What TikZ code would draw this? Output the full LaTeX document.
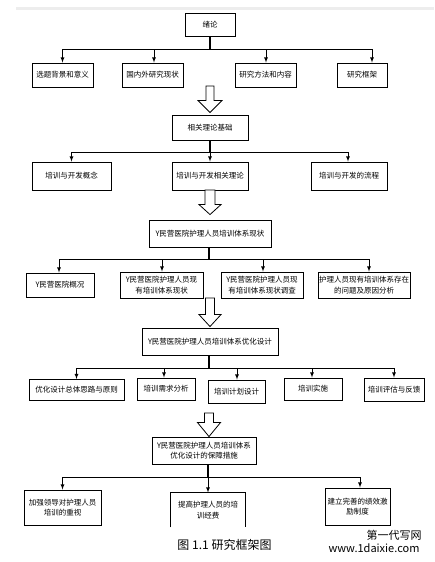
\documentclass[tikz,border=0pt]{standalone}
\usepackage{fontspec}
\setmainfont{Noto Sans CJK SC}
\usetikzlibrary{arrows}

\begin{document}
\begin{tikzpicture}
[x=1pt,y=-1pt,
  boxdecorate/.style={shape=rectangle,draw,line width=0.9pt,inner sep=0pt,align=center,
    font=\fontsize{7.5}{10.5}\selectfont},
  linedecorate/.style={-,line width=0.8pt},
  stemdecorate/.style={-,line width=1.3pt},
  arrowdecorate/.style={-latex,line width=0.8pt},
  hollowdecorate/.style={draw,line width=0.8pt,fill=white}]
\useasboundingbox (0,0) rectangle (434,562);
\fill[black!7] (16,7) rectangle (434,10);
%% boxes
\foreach \nodename/\x/\y/\w/\h/\txt in {intro/210/24.5/50/23/绪论,
  bg/62.5/75/61/24/选题背景和意义, lit/152.5/75/61/24/国内外研究现状,
  meth/265.5/75/61/24/研究方法和内容, frame/362/75/50/24/研究框架,
  theory/210/127.5/76/25/相关理论基础,
  concept/71.5/176/79/28/培训与开发概念, rtheory/210/176/76/28/培训与开发相关理论,
  flow/349/176/76/28/培训与开发的流程,
  status/210/233.5/122/27/Y民营医院护理人员培训体系现状,
  hosp/60/285/68/24/Y民营医院概况, cur/161.5/285/83/26/{Y民营医院护理人员现\\有培训体系现状},
  survey/262/285/82/26/{Y民营医院护理人员现\\有培训体系现状调查},
  prob/364/285/92/26/{护理人员现有培训体系存在\\的问题及原因分析},
  design/210/341.5/136/27/Y民营医院护理人员培训体系优化设计,
  idea/76.5/390/95/21/优化设计总体思路与原则, need/166/389/58/22/培训需求分析,
  plan/236.5/391.5/57/23/培训计划设计, impl/313/389/58/22/培训实施,
  eval/394/389.5/60/23/培训评估与反馈,
  guar/204/450.5/104/27/{Y民营医院护理人员培训体系\\优化设计的保障措施},
  lead/62.5/507.5/77/35/{加强领导对护理人员\\培训的重视},
  perf/357.5/506.5/65/37/{建立完善的绩效激\\励制度}}
{
  \node (\nodename) at (\x,\y) [boxdecorate,minimum width=\w pt,minimum height=\h pt] {\txt};
}
% open at the bottom
\node (fund) at (208,510) [boxdecorate,draw=none,minimum width=74pt,minimum height=34pt]
  {提高护理人员的培\\训经费};
\draw[line width=0.9pt] (fund.south west) -- (fund.north west) -- (fund.north east) -- (fund.south east);
%% bus levels
\foreach \busname/\y in {bus1/49, bus2/152, bus3/259, bus4/368, bus5/477}
  \coordinate (\busname) at (0,\y);
%% stems
\foreach \parent/\dx/\bus in {intro/0/bus1, theory/0/bus2, status/-1/bus3, design/-1/bus4, guar/4/bus5}
  \draw[stemdecorate] ([xshift=\dx pt]\parent.south) -- ([xshift=\dx pt]\parent.south |- \bus);
\foreach \first/\dxa/\last/\dxb/\bus in {bg/0/frame/10/bus1, concept/0/flow/-1/bus2,
  hosp/-1/prob/5/bus3, idea/0/eval/0/bus4, lead/0/perf/2.5/bus5}
  \draw[linedecorate] ([xshift=\dxa pt]\first.north |- \bus) -- ([xshift=\dxb pt]\last.north |- \bus);
\foreach \child/\dx/\bus in {bg/0/bus1, lit/1.5/bus1, meth/0.5/bus1, frame/10/bus1,
  concept/0/bus2, rtheory/0/bus2, flow/-1/bus2,
  hosp/-1/bus3, cur/0.5/bus3, survey/1/bus3, prob/5/bus3,
  idea/0/bus4, need/-2/bus4, plan/0.5/bus4, impl/-1/bus4, eval/0/bus4,
  lead/0/bus5, fund/0/bus5, perf/2.5/bus5}
  \draw[arrowdecorate] ([xshift=\dx pt]\child.north |- \bus) -- ([xshift=\dx pt]\child.north);
%% hollow arrows
\foreach \to/\dx/\ys/\sw/\hw/\hl/\gap in {theory/0/86/4/12/12/2, status/0/190/5/11/10/5,
  design/0/298/4.5/11/12/1, guar/5/413/4.5/11.5/14/0}
{
  \coordinate (tip) at ([xshift=\dx pt,yshift=\gap pt]\to.north);
  \coordinate (ys) at (0,\ys);
  \coordinate (tail) at (tip |- ys);
  \draw[hollowdecorate] ([xshift=-\sw pt]tail) -- ([xshift=-\sw pt,yshift=\hl pt]tip)
    -- ([xshift=-\hw pt,yshift=\hl pt]tip) -- (tip) -- ([xshift=\hw pt,yshift=\hl pt]tip)
    -- ([xshift=\sw pt,yshift=\hl pt]tip) -- ([xshift=\sw pt]tail) -- cycle;
}
%% caption and mark
\node (caption) at (224.5,545) {\fontsize{12}{14}\selectfont 图\ 1.1\ 研究框架图};
\node (mark1) at (394,535) {\fontsize{11}{13}\selectfont 第一代写网};
\node (mark2) at (374,548.5) {\fontsize{11}{13}\selectfont www.1daixie.com};
\end{tikzpicture}
\end{document}
